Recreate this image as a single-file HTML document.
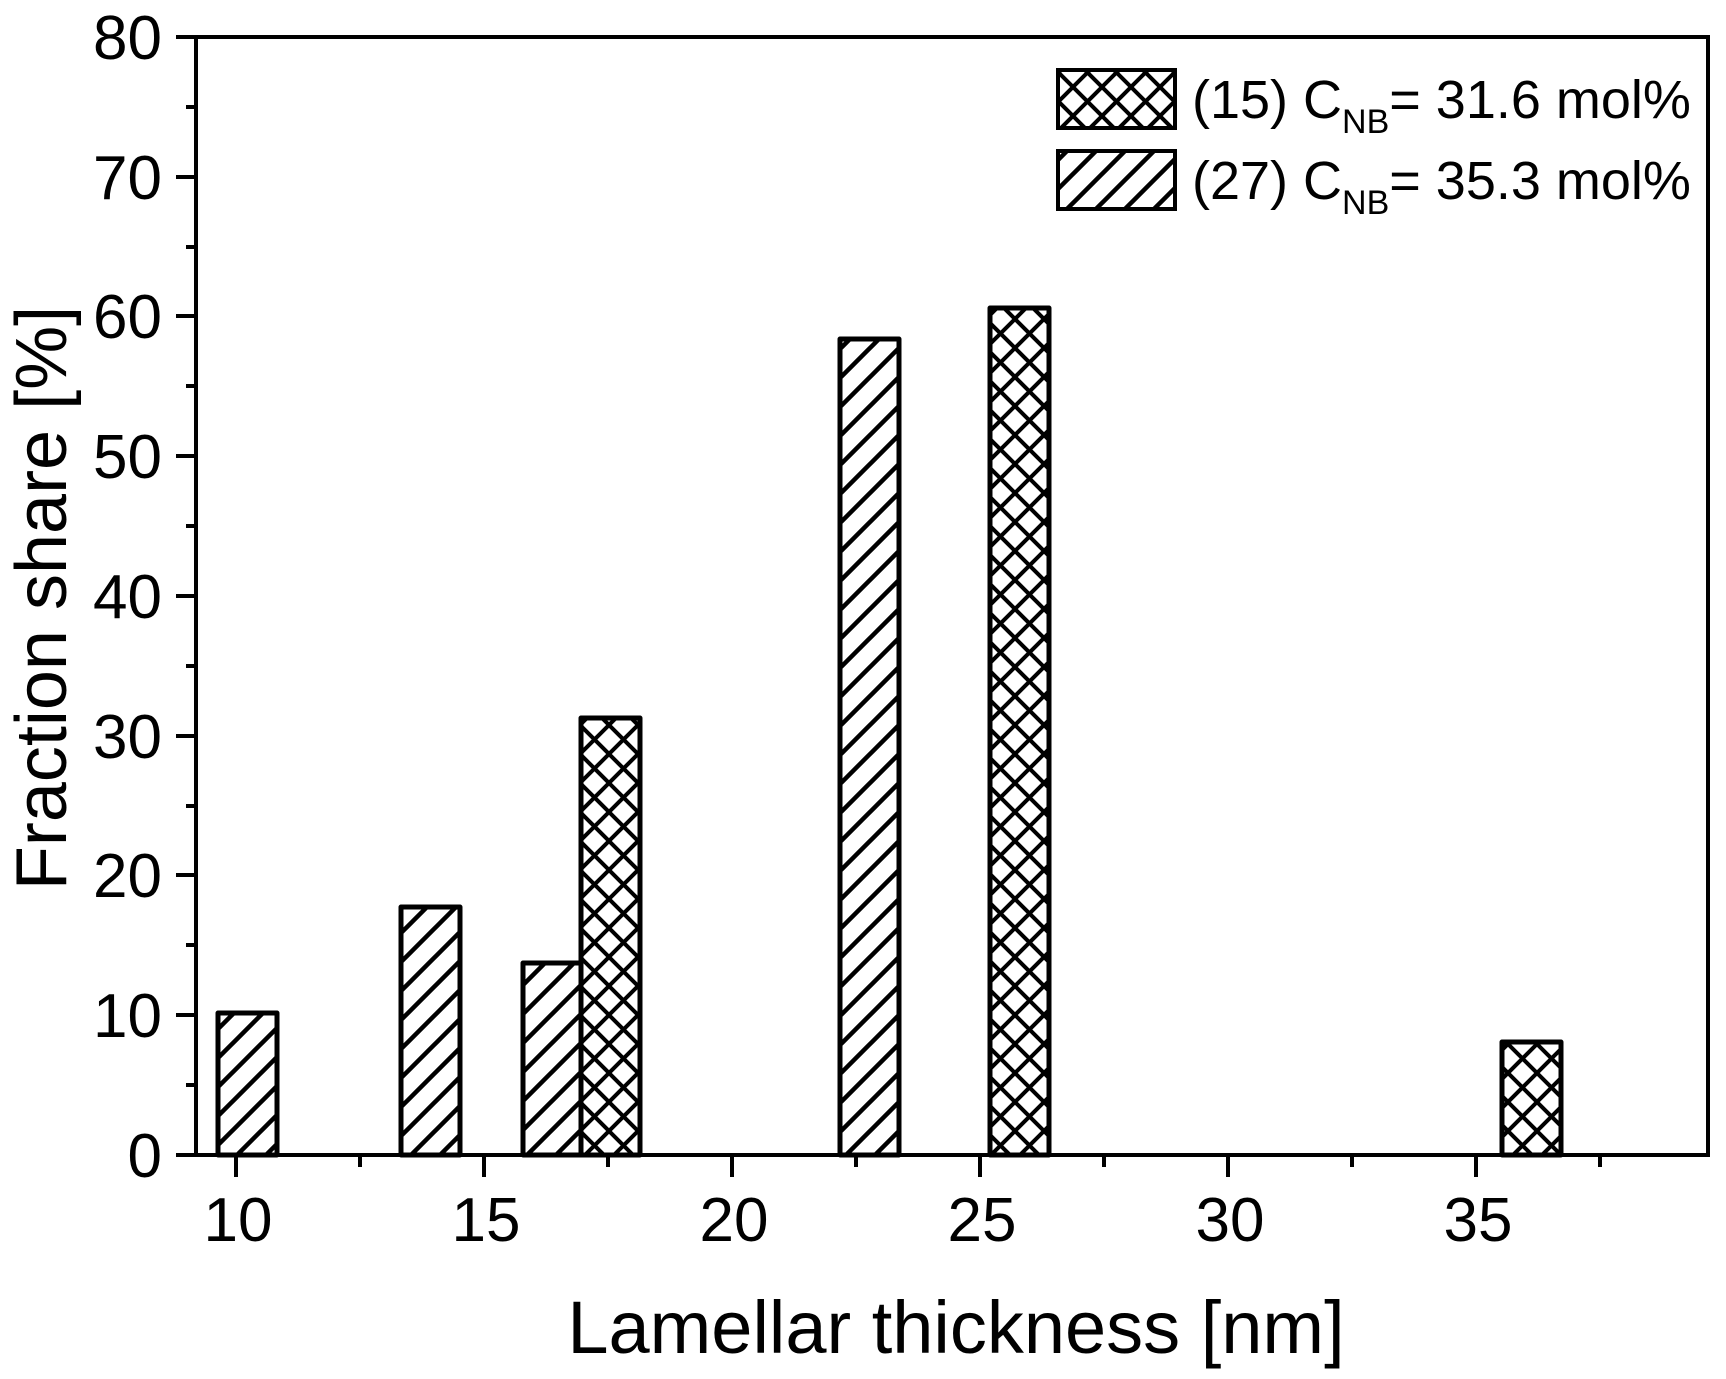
<!DOCTYPE html>
<html><head><meta charset="utf-8"><style>
html,body{margin:0;padding:0;background:#fff;}
svg{display:block;}
text{font-family:"Liberation Sans",Arial,sans-serif;fill:#000;}
</style></head><body>
<svg width="1726" height="1379" viewBox="0 0 1726 1379" xmlns="http://www.w3.org/2000/svg">
<defs>
<pattern id="diag" patternUnits="userSpaceOnUse" width="29" height="29">
<path d="M-3,32 L32,-3 M-3,3 L3,-3 M26,32 L32,26" stroke="#000" stroke-width="4.5"/>
</pattern>
<pattern id="cross" patternUnits="userSpaceOnUse" width="29" height="29">
<path d="M-3,32 L32,-3 M-3,3 L3,-3 M26,32 L32,26 M-3,-3 L32,32 M-3,26 L3,32 M26,-3 L32,3" stroke="#000" stroke-width="4"/>
</pattern>
</defs>
<g stroke="#000" stroke-width="5" stroke-linejoin="round">
<rect x="218" y="1013" width="59" height="142" fill="url(#diag)"/>
<rect x="401" y="907" width="59" height="248" fill="url(#diag)"/>
<rect x="523" y="963" width="58" height="192" fill="url(#diag)"/>
<rect x="581" y="718" width="59" height="437" fill="url(#cross)"/>
<rect x="840" y="339" width="59" height="816" fill="url(#diag)"/>
<rect x="990" y="308" width="59" height="847" fill="url(#cross)"/>
<rect x="1502" y="1042" width="59" height="113" fill="url(#cross)"/>
</g>
<rect x="196" y="37" width="1512" height="1118" fill="none" stroke="#000" stroke-width="4"/>
<g stroke="#000" stroke-width="4">
<path d="M176,37H196M176,177H196M176,316H196M176,456H196M176,596H196M176,736H196M176,875H196M176,1015H196M176,1155H196"/>
<path d="M186,107H196M186,247H196M186,386H196M186,526H196M186,666H196M186,806H196M186,945H196M186,1085H196"/>
<path d="M236,1155V1177M484,1155V1177M732,1155V1177M980,1155V1177M1228,1155V1177M1476,1155V1177"/>
<path d="M360,1155V1167M608,1155V1167M856,1155V1167M1104,1155V1167M1352,1155V1167M1600,1155V1167"/>
</g>
<g font-size="62" text-anchor="end">
<text x="162" y="59">80</text>
<text x="162" y="199">70</text>
<text x="162" y="338">60</text>
<text x="162" y="478">50</text>
<text x="162" y="618">40</text>
<text x="162" y="758">30</text>
<text x="162" y="897">20</text>
<text x="162" y="1037">10</text>
<text x="162" y="1177">0</text>
</g>
<g font-size="62" text-anchor="middle">
<text x="238" y="1241">10</text>
<text x="486" y="1241">15</text>
<text x="734" y="1241">20</text>
<text x="982" y="1241">25</text>
<text x="1230" y="1241">30</text>
<text x="1478" y="1241">35</text>
</g>
<text x="956" y="1353" font-size="74" text-anchor="middle">Lamellar thickness [nm]</text>
<text transform="translate(66,598) rotate(-90)" font-size="72" text-anchor="middle">Fraction share [%]</text>
<rect x="1058" y="70" width="117" height="58" fill="url(#cross)" stroke="#000" stroke-width="4"/>
<rect x="1058" y="151" width="117" height="58" fill="url(#diag)" stroke="#000" stroke-width="4"/>
<text x="1192" y="118" font-size="54">(15) C<tspan font-size="34" dy="15">NB</tspan><tspan dy="-15">= 31.6 mol%</tspan></text>
<text x="1192" y="199" font-size="54">(27) C<tspan font-size="34" dy="15">NB</tspan><tspan dy="-15">= 35.3 mol%</tspan></text>
</svg>
</body></html>
